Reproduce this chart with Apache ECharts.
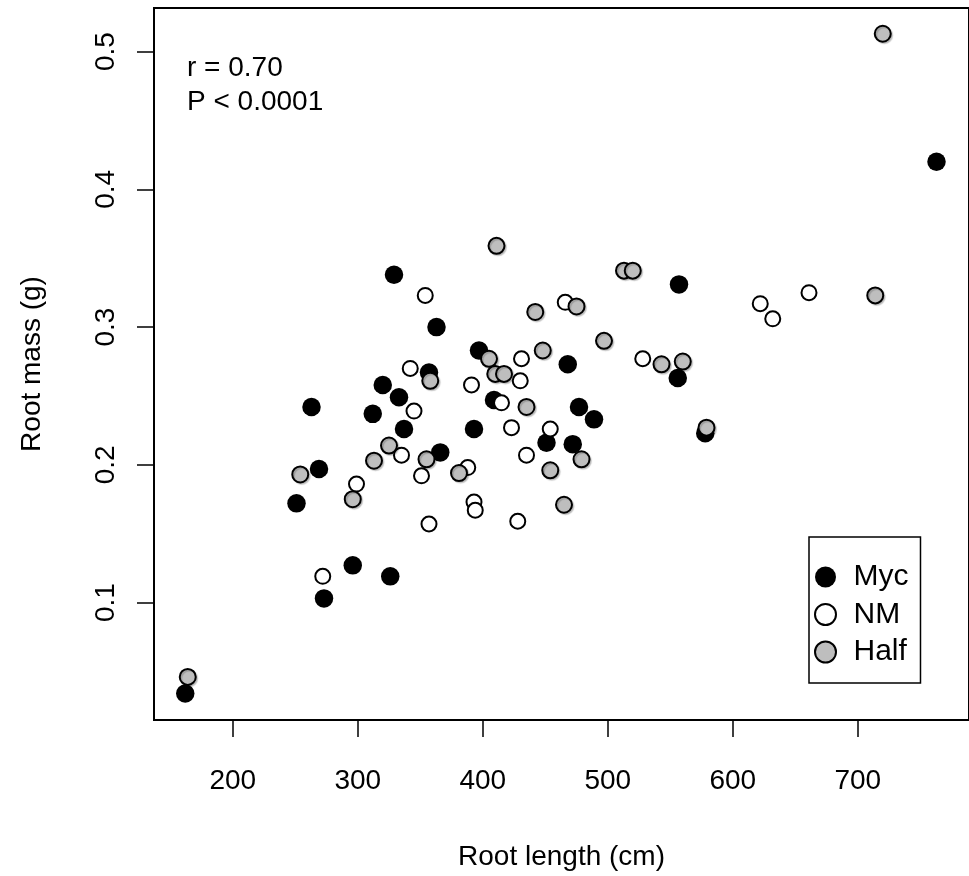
<!DOCTYPE html>
<html>
<head>
<meta charset="utf-8">
<script src="https://cdn.jsdelivr.net/npm/echarts@6/dist/echarts.min.js"></script>
<style>
  html, body { margin: 0; padding: 0; background: #fff; }
  #chart { width: 969px; height: 876px; }
</style>
</head>
<body>
<div id="chart"></div>
<script>
// Root length (cm), Root mass (g)
const mycLength = [329, 363, 357, 320, 333, 263, 312, 337, 366, 269, 251, 296, 326, 273, 162, 763, 557, 397, 468, 556, 409, 477, 489, 393, 451, 472, 578];
const mycMass   = [0.338, 0.300, 0.267, 0.258, 0.249, 0.242, 0.237, 0.226, 0.209, 0.197, 0.172, 0.127, 0.119, 0.103, 0.034, 0.420, 0.331, 0.283, 0.273, 0.263, 0.247, 0.242, 0.233, 0.226, 0.216, 0.215, 0.223];

const nmLength = [354, 342, 345, 335, 351, 299, 357, 272, 661, 622, 632, 466, 431, 528, 430, 391, 415, 423, 454, 435, 388, 393, 394, 428];
const nmMass   = [0.323, 0.270, 0.239, 0.207, 0.192, 0.186, 0.157, 0.119, 0.325, 0.317, 0.306, 0.318, 0.277, 0.277, 0.261, 0.258, 0.245, 0.227, 0.226, 0.207, 0.198, 0.173, 0.167, 0.159];

const halfLength = [720, 411, 358, 325, 313, 355, 254, 381, 513, 520, 714, 475, 442, 497, 405, 448, 543, 560, 410, 417, 435, 479, 454, 579, 296, 164, 465];
const halfMass   = [0.513, 0.359, 0.261, 0.214, 0.203, 0.204, 0.193, 0.194, 0.341, 0.341, 0.323, 0.315, 0.311, 0.290, 0.277, 0.283, 0.273, 0.275, 0.266, 0.266, 0.242, 0.204, 0.196, 0.227, 0.175, 0.046, 0.171];

const xTicks = [200, 300, 400, 500, 600, 700];
const yTicks = [0.1, 0.2, 0.3, 0.4, 0.5];
const groupNames = ['Myc', 'NM', 'Half'];
const statLines = ['r = 0.70', 'P < 0.0001'];

const pairs = (xs, ys) => xs.map((x, i) => [x, ys[i]]);
const FONT = "'Liberation Sans', Arial, Helvetica, sans-serif";

const chart = echarts.init(document.getElementById('chart'), null, { renderer: 'canvas' });

chart.setOption({
  backgroundColor: '#fff',
  animation: false,
  textStyle: { fontFamily: FONT, color: '#000' },
  grid: {
    left: 154, top: 8, width: 833, height: 718,
    show: true, borderColor: '#000', borderWidth: 2, backgroundColor: 'transparent'
  },
  xAxis: {
    type: 'value', min: 137, max: 789,
    name: 'Root length (cm)', nameLocation: 'middle', nameGap: 123,
    nameTextStyle: { fontSize: 28, color: '#000', fontFamily: FONT },
    axisLine: { show: false },
    splitLine: { show: false },
    axisTick: { show: true, inside: false, length: 17, customValues: xTicks, lineStyle: { color: '#000', width: 1.5 } },
    axisLabel: { show: true, margin: 47, fontSize: 28, color: '#000', fontFamily: FONT, customValues: xTicks }
  },
  yAxis: {
    type: 'value', min: 0.0147, max: 0.5317,
    name: 'Root mass (g)', nameLocation: 'middle', nameGap: 108, nameRotate: 90,
    nameTextStyle: { fontSize: 28, color: '#000', fontFamily: FONT },
    axisLine: { show: false },
    splitLine: { show: false },
    axisTick: { show: true, inside: false, length: 17, customValues: yTicks, lineStyle: { color: '#000', width: 1.5 } },
    axisLabel: { show: true, rotate: 90, margin: 34, fontSize: 28, color: '#000', fontFamily: FONT,
      customValues: yTicks, formatter: v => Number(v).toFixed(1) }
  },
  legend: {
    show: true, orient: 'vertical', left: 809, top: 537,
    data: groupNames, selectedMode: false,
    itemWidth: 46, itemHeight: 21, itemGap: 7.5,
    padding: [25, 12, 16, 5],
    borderColor: '#000', borderWidth: 1.5, backgroundColor: '#fff',
    textStyle: { fontSize: 30, color: '#000', fontFamily: FONT, lineHeight: 30 }
  },
  graphic: [
    { type: 'text', left: 187, top: 54, style: { text: statLines[0], font: "28px 'Liberation Sans', Arial, sans-serif", fill: '#000' } },
    { type: 'text', left: 187, top: 88, style: { text: statLines[1], font: "28px 'Liberation Sans', Arial, sans-serif", fill: '#000' } }
  ],
  series: [
    {
      name: groupNames[0], type: 'scatter', symbol: 'circle', symbolSize: 18.5,
      data: pairs(mycLength, mycMass),
      itemStyle: { color: '#000', borderColor: '#000', borderWidth: 0, opacity: 1 },
      emphasis: { disabled: true }
    },
    {
      name: groupNames[1], type: 'scatter', symbol: 'circle', symbolSize: 15,
      data: pairs(nmLength, nmMass),
      itemStyle: { color: '#fff', borderColor: '#000', borderWidth: 2, opacity: 1 },
      emphasis: { disabled: true }
    },
    {
      name: groupNames[2], type: 'scatter', symbol: 'circle', symbolSize: 16,
      data: pairs(halfLength, halfMass),
      itemStyle: { color: '#bebebe', borderColor: '#000', borderWidth: 2, opacity: 1,
        shadowColor: 'rgba(0,0,0,0.18)', shadowOffsetX: 1.5, shadowOffsetY: 1.5, shadowBlur: 1 },
      emphasis: { disabled: true }
    }
  ]
});
</script>
</body>
</html>
